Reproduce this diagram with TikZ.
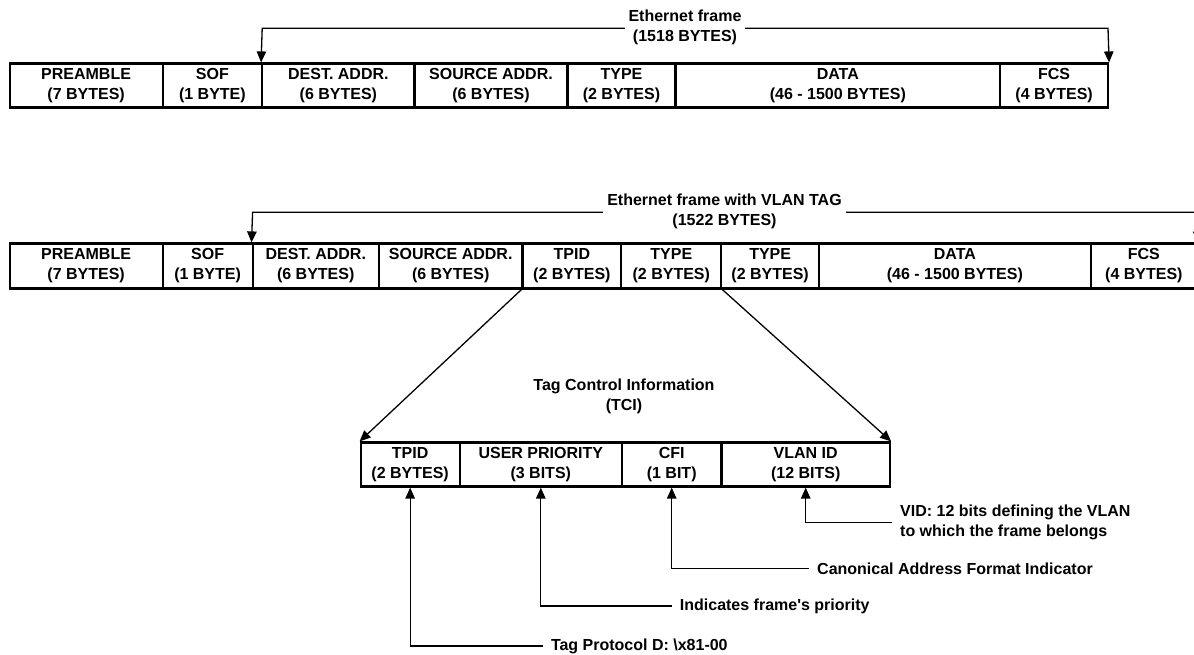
\documentclass[tikz,border=0pt]{standalone}
\usepackage{fontspec}
\setmainfont{Liberation Sans}[Ligatures=TeXOff]
\usetikzlibrary{arrows.meta}
\newcommand\ff{\bfseries\fontsize{16}{20}\selectfont}
\tikzset{
  field/.style={draw, line width=2.2pt, inner sep=0pt, align=center, font=\ff},
  framelbl/.style={fill=white, inner xsep=4pt, inner ysep=0pt, align=center, font=\ff},
  conn/.style={line width=1.3pt, -{Triangle[length=11pt,width=9.5pt]}},
  conn2/.style={line width=1.3pt, {Triangle[length=11pt,width=9.5pt]}-{Triangle[length=11pt,width=9.5pt]}},
  note/.style={anchor=west, align=left, inner xsep=8pt, inner ysep=0pt, font=\ff}
}
\newcommand\fieldbox[6]{\node[field, minimum width={(#3-#2)*1pt}, minimum height={(#5-#4)*1pt}] (#1) at ({(#2+#3)/2},{(#4+#5)/2}) {#6};}
\begin{document}
\begin{tikzpicture}[x=1pt,y=-1pt]
\clip (0,0) rectangle (1194,654);
\fill[white] (0,0) rectangle (1194,654);
% ---- plain Ethernet frame
\fieldbox{t1}{9.6}{162.6}{63.5}{107.5}{PREAMBLE\\(7 BYTES)}
\fieldbox{t2}{162.6}{262.2}{63.5}{107.5}{SOF\\(1 BYTE)}
\fieldbox{t3}{262.2}{414.5}{63.5}{107.5}{DEST. ADDR.\\(6 BYTES)}
\fieldbox{t4}{414.5}{567.5}{63.5}{107.5}{SOURCE ADDR.\\(6 BYTES)}
\fieldbox{t5}{567.5}{675.5}{63.5}{107.5}{TYPE\\(2 BYTES)}
\fieldbox{t6}{675.5}{1000.2}{63.5}{107.5}{DATA\\(46 - 1500 BYTES)}
\fieldbox{t7}{1000.2}{1108}{63.5}{107.5}{FCS\\(4 BYTES)}
\coordinate (ta) at (262.2,28.3);
\coordinate (tb) at (1108,28.3);
\draw[conn2] (t3.north west) -- (ta) -- (tb) -- (t7.north east);
\node[framelbl] (tlab) at (685,27.5) {Ethernet frame\\(1518 BYTES)};
% ---- VLAN tagged frame
\fieldbox{v1}{9.6}{162.6}{243.5}{288.5}{PREAMBLE\\(7 BYTES)}
\fieldbox{v2}{162.6}{252.6}{243.5}{288.5}{SOF\\(1 BYTE)}
\fieldbox{v3}{252.6}{378.9}{243.5}{288.5}{DEST. ADDR.\\(6 BYTES)}
\fieldbox{v4}{378.9}{522.5}{243.5}{288.5}{SOURCE ADDR.\\(6 BYTES)}
\fieldbox{v5}{522.5}{621.3}{243.5}{288.5}{TPID\\(2 BYTES)}
\fieldbox{v6}{621.3}{721.3}{243.5}{288.5}{TYPE\\(2 BYTES)}
\fieldbox{v7}{721.3}{819}{243.5}{288.5}{TYPE\\(2 BYTES)}
\fieldbox{v8}{819}{1090.8}{243.5}{288.5}{DATA\\(46 - 1500 BYTES)}
\fieldbox{v9}{1090.8}{1197}{243.5}{288.5}{FCS\\(4 BYTES)}
\coordinate (va) at (252.6,212.3);
\coordinate (vb) at (1197,212.3);
\draw[conn2] (v3.north west) -- (va) -- (vb) -- (v9.north east);
\node[framelbl] (vlab) at (724.5,211.2) {Ethernet frame with VLAN TAG\\(1522 BYTES)};
% ---- TCI
\node[align=center, font=\ff, inner sep=0pt] (tcilab) at (624,396.7) {Tag Control Information\\(TCI)};
\fieldbox{c1}{360.7}{459.6}{442.5}{486.5}{TPID\\(2 BYTES)}
\fieldbox{c2}{459.6}{622}{442.5}{486.5}{USER PRIORITY\\(3 BITS)}
\fieldbox{c3}{622}{721.4}{442.5}{486.5}{CFI\\(1 BIT)}
\fieldbox{c4}{721.4}{890}{442.5}{486.5}{VLAN ID\\(12 BITS)}
\draw[conn] (v5.south west) -- (c1.north west);
\draw[conn] (v6.south east) -- (c4.north east);
% ---- notes
\node[note] (nvid) at (892,522.7) {VID: 12 bits defining the VLAN\\to which the frame belongs};
\node[note] (ncfi) at (809,568.3) {Canonical Address Format Indicator};
\node[note] (npri) at (671.7,606) {Indicates frame's priority};
\node[note] (ntag) at (542.8,646) {Tag Protocol D: \textbackslash x81-00};
\draw[conn] (nvid.west) -| (c4.south);
\draw[conn] (ncfi.west) -| (c3.south);
\draw[conn] (npri.west) -| (c2.south);
\draw[conn] (ntag.west) -| (c1.south);
\end{tikzpicture}
\end{document}
